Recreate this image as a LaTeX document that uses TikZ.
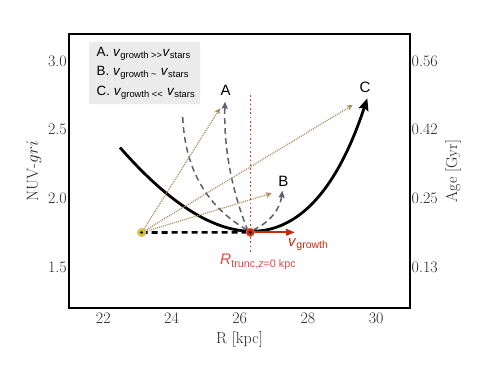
\documentclass[tikz,border=0pt]{standalone}
\usepackage{fontspec}
\newfontfamily\hv{Liberation Sans}
\usetikzlibrary{arrows.meta}
\definecolor{txt}{HTML}{262626}
\definecolor{slate}{HTML}{596170}
\definecolor{tanc}{HTML}{AD8D62}
\definecolor{rarrow}{HTML}{CC2A0A}
\definecolor{rdot}{HTML}{E23A32}
\definecolor{rlab}{HTML}{E04A48}
\definecolor{legfill}{HTML}{EBEBEB}
\definecolor{yel}{HTML}{E2C214}
\begin{document}
\begin{tikzpicture}[x=1pt,y=-1pt,
  tick/.style={text=txt,inner sep=0pt,font=\fontsize{16}{19}\selectfont},
  axlab/.style={text=txt,inner sep=0pt,font=\fontsize{16}{19}\selectfont},
  letter/.style={inner sep=0pt,anchor=base,font=\hv\fontsize{15}{18}\selectfont},
  legtext/.style={inner sep=0pt,anchor=base west,font=\hv\fontsize{13.4}{15}\selectfont},
  graydash/.style={draw=slate,line width=1.5pt,dash pattern=on 6pt off 4pt},
  grayarrow/.style={graydash,-{Stealth[length=7pt,width=6pt,inset=1pt]}},
  tandot/.style={draw=tanc,line width=1.25pt,dash pattern=on 1pt off 1pt,-{Stealth[length=5.5pt,width=5.5pt,inset=1pt]}},
  marker/.style={circle,inner sep=0pt,minimum size=8.5pt}
]
\useasboundingbox (0,0) rectangle (491,368);
% frame
\draw[line width=1.3pt] (69,34) rectangle (410,308);
% ticks left
\node[tick,anchor=east] (y30) at (67,61) {3.0};
\node[tick,anchor=east] (y25) at (67,129.7) {2.5};
\node[tick,anchor=east] (y20) at (67,198.4) {2.0};
\node[tick,anchor=east] (y15) at (67,267.1) {1.5};
% ticks right
\node[tick,anchor=west] (a56) at (411.5,61) {0.56};
\node[tick,anchor=west] (a42) at (411.5,129.7) {0.42};
\node[tick,anchor=west] (a25) at (411.5,198.4) {0.25};
\node[tick,anchor=west] (a13) at (411.5,267.1) {0.13};
% ticks bottom
\node[tick] (x22) at (103.3,318.3) {22};
\node[tick] (x24) at (171.5,318.3) {24};
\node[tick] (x26) at (239.7,318.3) {26};
\node[tick] (x28) at (307.9,318.3) {28};
\node[tick] (x30) at (376.1,318.3) {30};
% axis labels
\node[axlab,anchor=base] (xlab) at (239.5,343.3) {R [kpc]};
\node[axlab,rotate=90] (ylab) at (34,171) {NUV-$gri$};
\node[axlab,rotate=90] (rlab) at (453,171) {Age [Gyr]};
% legend
\node[fill=legfill,rounded corners=1pt,minimum width=111pt,minimum height=62pt,inner sep=0pt,anchor=north west] (leg) at (89,42) {};
\node[legtext] (legA) at (96.5,56.7) {A.\ \textit{v}\textsubscript{growth >>}\textit{v}\textsubscript{stars}};
\node[legtext] (legB) at (96.5,75.7) {B.\ \textit{v}\textsubscript{growth \textasciitilde}\ \textit{v}\textsubscript{stars}};
\node[legtext] (legC) at (96.5,95) {C.\ \textit{v}\textsubscript{growth <<}\ \textit{v}\textsubscript{stars}};
% red dotted vertical
\coordinate (vtop) at (250.5,95);
\coordinate (vbot) at (250.5,253);
\draw[rdot,line width=1.7pt,dash pattern=on 1.7pt off 2.6pt] (vtop) -- (vbot);
% gray dashed curves
\coordinate (g1s) at (182.7,117);
\coordinate (g1e) at (249,231);
\draw[graydash] (g1s) .. controls (185,169.7) and (207.1,207.7) .. (g1e);
\coordinate (gAs) at (248,231);
\coordinate (gAe) at (225,101.7);
\draw[grayarrow] (gAs) .. controls (231.3,189.6) and (223.6,146.5) .. (gAe);
\coordinate (gBs) at (253,230);
\coordinate (gBe) at (282.5,190.7);
\draw[grayarrow] (gBs) .. controls (270.1,222.3) and (279.9,209.2) .. (gBe);
% black curve
\coordinate (bs) at (120,147.5);
\coordinate (be) at (367.3,98.3);
\draw[line width=2.8pt,-{Stealth[length=12pt,width=10pt,inset=2pt]}] (bs) .. controls (231.1,274.5) and (316,254) .. (be);
% markers
\node[marker] (P0) at (141.7,232.5) {};
\node[marker] (Pm) at (250.3,232.3) {};
\coordinate (tA) at (220,108.3);
\coordinate (tB) at (271.7,193.3);
\coordinate (tC) at (352.7,105);
\coordinate (tR) at (295,232.3);
\draw[tandot] (P0.center) -- (tA);
\draw[tandot] (P0.center) -- (tC);
\draw[tandot] (P0.center) -- (tB);
\draw[line width=2.6pt,dash pattern=on 6pt off 4pt] (P0.center) -- (Pm.center);
\draw[rarrow,line width=2pt,-{Triangle[length=9pt,width=6.5pt]}] (Pm.center) -- (tR);
\node[marker,fill=yel,draw=gray!50,line width=0.6pt] at (P0) {};
\fill (P0) circle (1.5pt);
\node[marker,fill=rarrow,draw=rarrow!60,line width=0.6pt] at (Pm) {};
\fill (Pm) circle (1.5pt);
% letters
\node[letter] (lA) at (225.7,95.7) {A};
\node[letter] (lB) at (283.3,186) {B};
\node[letter] (lC) at (365,92.7) {C};
% red labels
\node[inner sep=0pt,anchor=base west,text=rarrow,font=\hv\fontsize{15}{18}\selectfont] (vg) at (288,246) {\textit{v}\textsubscript{growth}};
\node[inner sep=0pt,anchor=base west,text=rlab,font=\hv\fontsize{15.4}{18}\selectfont] (rt) at (220,264.3) {\textit{R}\textsubscript{trunc,\textit{z}=0 kpc}};
\end{tikzpicture}
\end{document}
